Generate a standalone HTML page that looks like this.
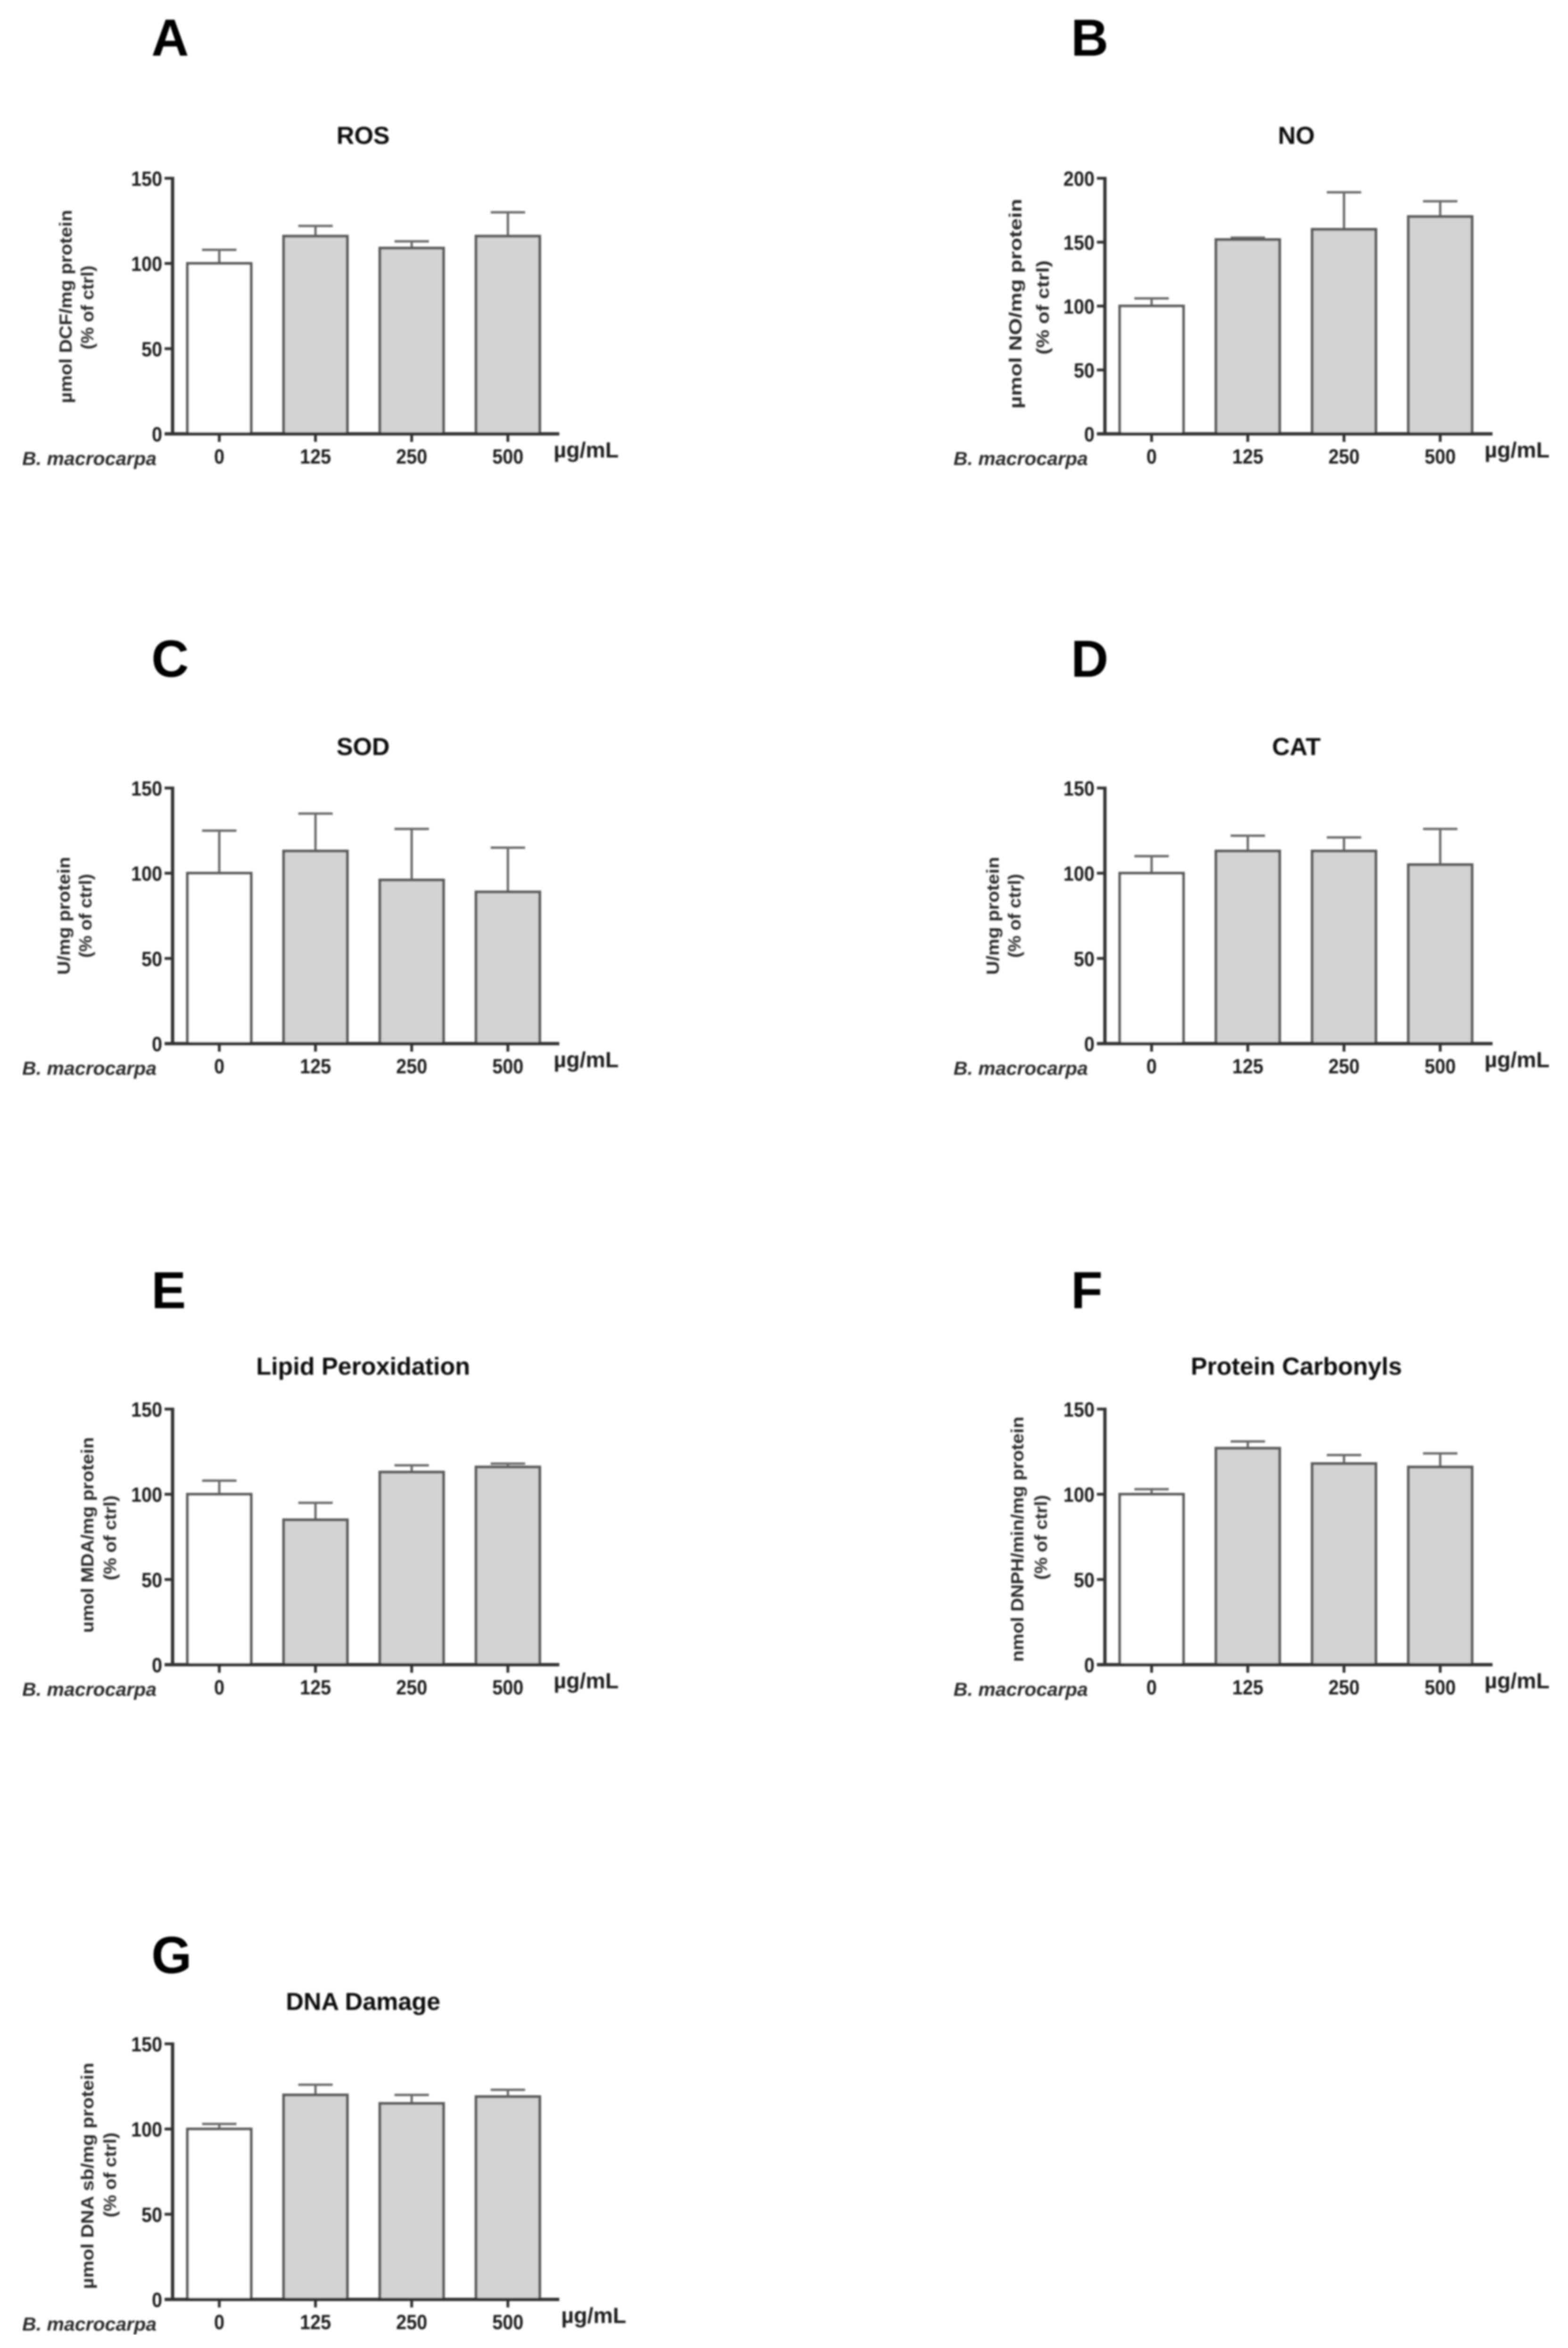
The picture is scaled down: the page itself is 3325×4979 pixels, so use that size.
<!DOCTYPE html>
<html lang="en">
<head>
<meta charset="utf-8">
<title>B. macrocarpa oxidative stress bar charts</title>
<style>
html,body{margin:0;padding:0;background:#fff;}
svg{display:block;}
text{font-family:"Liberation Sans",Arial,sans-serif;}
</style>
</head>
<body>
<svg id="fig" xmlns="http://www.w3.org/2000/svg" width="3325" height="4979" viewBox="0 0 3325 4979">
<defs><filter id="soft" x="0" y="0" width="100%" height="100%"><feGaussianBlur stdDeviation="1.8"/></filter></defs>
<rect width="3325" height="4979" fill="#fff"/>
<g id="root" filter="url(#soft)"></g>
</svg>
<script>
const categories = ['0', '125', '250', '500'];
const ticks150 = [0, 50, 100, 150];
const ticks200 = [0, 50, 100, 150, 200];

const rosMeans = [100, 116, 109, 116];
const rosTops = [108, 122, 113, 130];
const noMeans = [100, 152, 160, 170];
const noTops = [106, 153.5, 189, 182];
const sodMeans = [100, 113, 96, 89];
const sodTops = [125, 135, 126, 115];
const catMeans = [100, 113, 113, 105];
const catTops = [110, 122, 121, 126];
const lipidMeans = [100, 85, 113, 116];
const lipidTops = [108, 95, 117, 118];
const carbonylMeans = [100, 127, 118, 116];
const carbonylTops = [103, 131, 123, 124];
const dnaMeans = [100, 120, 115, 119];
const dnaTops = [103, 126, 120, 123];

const NS = 'http://www.w3.org/2000/svg';
const root = document.getElementById('root');
const BAR_W = 135, CAP_W = 73, TICK = 17, PLOT_H = 542;
const AXIS_COL = '#333', BAR_COL = '#5c5c5c', TEXT_COL = '#1c1c1c';

function mk(parent, tag, attrs, txt) {
  const el = document.createElementNS(NS, tag);
  for (const k in attrs) el.setAttribute(k, attrs[k]);
  if (txt !== undefined) el.textContent = txt;
  parent.appendChild(el);
  return el;
}

function drawPanel(cfg) {
  const g = mk(root, 'g', {});
  
  

  const yScale = v => cfg.y0 - v / cfg.ticks[cfg.ticks.length - 1] * PLOT_H;
  const xScale = i => cfg.cx0 + i * cfg.step;

  const letter = mk(g, 'text', {x: cfg.letterX, y: cfg.letterY, 'font-size': 110, 'font-weight': 'bold', fill: '#000'}, cfg.letter);
  
  

  const title = mk(g, 'text', {x: cfg.titleX, y: cfg.titleY, 'font-size': 52, 'font-weight': 'bold', 'text-anchor': 'middle', fill: '#111'}, cfg.title);
  
  

  const means = cfg.means, tops = cfg.tops;
  means.forEach((m, i) => {
    const cx = xScale(i);
    const stem = mk(g, 'line', {x1: cx, x2: cx, y1: yScale(m), y2: yScale(tops[i]), stroke: '#6a6a6a', 'stroke-width': 5});
    
    
    const cap = mk(g, 'line', {x1: cx - CAP_W / 2, x2: cx + CAP_W / 2, y1: yScale(tops[i]), y2: yScale(tops[i]), stroke: '#6a6a6a', 'stroke-width': 5});
    
    
    const bar = mk(g, 'rect', {x: cx - BAR_W / 2, y: yScale(m), width: BAR_W, height: cfg.y0 - yScale(m), fill: i === 0 ? '#fff' : '#d3d3d3', stroke: BAR_COL, 'stroke-width': 6});
    
    
    const tick = mk(g, 'line', {x1: cx, x2: cx, y1: cfg.y0, y2: cfg.y0 + TICK, stroke: AXIS_COL, 'stroke-width': 6});
    
    
    const lab = mk(g, 'text', {x: cx, y: cfg.y0 + 63, 'font-size': 44, 'font-weight': 'bold', 'text-anchor': 'middle', fill: TEXT_COL, textLength: categories[i].length * 22, lengthAdjust: 'spacingAndGlyphs'}, categories[i]);
    
    
  });

  const yAxis = mk(g, 'line', {x1: cfg.axisX, x2: cfg.axisX, y1: cfg.y0, y2: yScale(cfg.ticks[cfg.ticks.length - 1]) - 3, stroke: AXIS_COL, 'stroke-width': 7});
  
  
  const xAxis = mk(g, 'line', {x1: cfg.axisX - TICK, x2: cfg.axisEnd, y1: cfg.y0, y2: cfg.y0, stroke: AXIS_COL, 'stroke-width': 7});
  
  

  cfg.ticks.forEach(t => {
    const tk = mk(g, 'line', {x1: cfg.axisX - TICK, x2: cfg.axisX, y1: yScale(t), y2: yScale(t), stroke: AXIS_COL, 'stroke-width': 6});
    
    
    const tl = mk(g, 'text', {x: cfg.axisX - 22, y: yScale(t) + 16, 'font-size': 44, 'font-weight': 'bold', 'text-anchor': 'end', fill: TEXT_COL, textLength: String(t).length * 22, lengthAdjust: 'spacingAndGlyphs'}, String(t));
    
    
  });

  const ser = mk(g, 'text', {x: cfg.seriesX, y: cfg.y0 + 66, 'font-size': 40, 'font-weight': 'bold', 'font-style': 'italic', fill: '#2a2a2a', textLength: 285, lengthAdjust: 'spacingAndGlyphs'}, 'B. macrocarpa');
  
  

  const unit = mk(g, 'text', {x: cfg.unitX, y: cfg.y0 + cfg.unitDy, 'font-size': 46, 'font-weight': 'bold', fill: '#1f1f1f', textLength: 138, lengthAdjust: 'spacingAndGlyphs'}, 'µg/mL');
  
  

  const y1 = mk(g, 'text', {x: 0, y: 0, transform: 'translate(' + cfg.yt1X + ',' + cfg.yt1Y + ') rotate(-90)', 'font-size': 37, 'text-anchor': 'middle', 'font-weight': 'bold', fill: '#2a2a2a', textLength: cfg.yt1Len, lengthAdjust: 'spacingAndGlyphs'}, cfg.yt1);
  
  
  const y2 = mk(g, 'text', {x: 0, y: 0, transform: 'translate(' + cfg.yt2X + ',' + cfg.yt2Y + ') rotate(-90)', 'font-size': 37, 'text-anchor': 'middle', 'font-weight': 'bold', fill: '#2a2a2a', textLength: cfg.yt2Len, lengthAdjust: 'spacingAndGlyphs'}, '(% of ctrl)');
  
  
}

const left = {axisX: 366, axisEnd: 1186, cx0: 465, step: 204, seriesX: 47, unitX: 1174, unitDy: 50, titleX: 770};
const right = {axisX: 2343, axisEnd: 3165, cx0: 2442, step: 204, seriesX: 2022, unitX: 3148, unitDy: 50, titleX: 2749};

drawPanel({...left, letter: 'A', letterX: 321, letterY: 118, title: 'ROS', titleY: 305, y0: 920, ticks: ticks150, means: rosMeans, tops: rosTops,
  yt1: 'µmol DCF/mg protein', yt1X: 152, yt1Y: 650, yt1Len: 410, yt2X: 198, yt2Y: 652, yt2Len: 178});
drawPanel({...right, letter: 'B', letterX: 2271, letterY: 118, title: 'NO', titleY: 305, y0: 920, ticks: ticks200, means: noMeans, tops: noTops,
  yt1: 'µmol NO/mg protein', yt1X: 2166, yt1Y: 644, yt1Len: 445, yt2X: 2224, yt2Y: 652, yt2Len: 200});
drawPanel({...left, letter: 'C', letterX: 321, letterY: 1435, title: 'SOD', titleY: 1601, y0: 2213, ticks: ticks150, means: sodMeans, tops: sodTops,
  yt1: 'U/mg protein', yt1X: 148, yt1Y: 1942, yt1Len: 250, yt2X: 194, yt2Y: 1942, yt2Len: 178});
drawPanel({...right, letter: 'D', letterX: 2271, letterY: 1435, title: 'CAT', titleY: 1601, y0: 2213, ticks: ticks150, means: catMeans, tops: catTops,
  yt1: 'U/mg protein', yt1X: 2118, yt1Y: 1942, yt1Len: 250, yt2X: 2164, yt2Y: 1942, yt2Len: 178});
drawPanel({...left, letter: 'E', letterX: 321, letterY: 2774, title: 'Lipid Peroxidation', titleY: 2915, y0: 3530, ticks: ticks150, means: lipidMeans, tops: lipidTops,
  yt1: 'umol MDA/mg protein', yt1X: 198, yt1Y: 3255, yt1Len: 415, yt2X: 246, yt2Y: 3261, yt2Len: 180});
drawPanel({...right, letter: 'F', letterX: 2271, letterY: 2774, title: 'Protein Carbonyls', titleY: 2915, y0: 3530, ticks: ticks150, means: carbonylMeans, tops: carbonylTops,
  yt1: 'nmol DNPH/min/mg protein', yt1X: 2170, yt1Y: 3264, yt1Len: 520, yt2X: 2220, yt2Y: 3260, yt2Len: 180});
drawPanel({...left, unitX: 1190, letter: 'G', letterX: 321, letterY: 4184, title: 'DNA Damage', titleY: 4262, y0: 4876, ticks: ticks150, means: dnaMeans, tops: dnaTops,
  yt1: 'µmol  DNA sb/mg protein', yt1X: 198, yt1Y: 4614, yt1Len: 480, yt2X: 246, yt2Y: 4612, yt2Len: 180});
</script>
</body>
</html>
